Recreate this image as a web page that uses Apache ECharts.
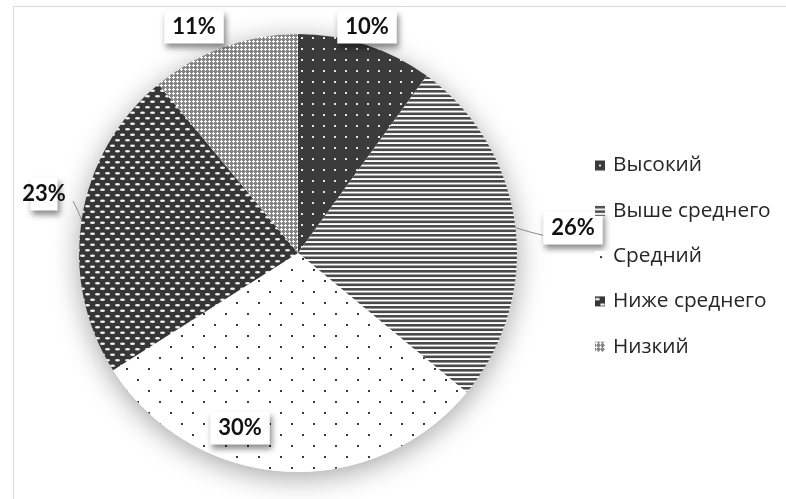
<!DOCTYPE html>
<html>
<head>
<meta charset="utf-8">
<script src="https://cdn.jsdelivr.net/npm/echarts@6/dist/echarts.min.js"></script>
<style>
  html, body { margin: 0; padding: 0; background: #fff; }
  #chart { width: 786px; height: 499px; }
</style>
</head>
<body>
<div id="chart"></div>
<script>
// Levels and their shares (%)
const categories = ['Высокий', 'Выше среднего', 'Средний', 'Ниже среднего', 'Низкий'];
const shares = [10, 26, 30, 23, 11];

// Where each percentage box sits, and its leader line (null = none)
const labelSpots = [[367, 27], [573, 228], [240, 428], [44, 194], [194, 27]];
const leaderLines = [
  null,
  [[513, 227], [530, 232], [546, 236]],
  [[264, 437], [325, 437], [386, 437]],
  [[82, 221], [78, 211], [73, 201]],
  null
];

// Small repeating tiles used as hatch fills
function tile(w, h, draw) {
  const c = document.createElement('canvas');
  c.width = w; c.height = h;
  const g = c.getContext('2d');
  draw(g, w, h);
  return { image: c, repeat: 'repeat' };
}

const fills = [
  // dark with light dots
  tile(11, 11, (g, w, h) => {
    g.fillStyle = '#3b3b3b'; g.fillRect(0, 0, w, h);
    g.fillStyle = '#e6e6e6'; g.fillRect(4, 4, 2, 2);
  }),
  // horizontal stripes
  tile(9, 9, (g, w, h) => {
    g.fillStyle = '#ffffff'; g.fillRect(0, 0, w, h);
    g.fillStyle = '#4a4a4a'; g.fillRect(0, 0, w, 2.6); g.fillRect(0, 4.5, w, 2.6);
  }),
  // sparse staggered dots
  tile(22, 22, (g, w, h) => {
    g.fillStyle = '#ffffff'; g.fillRect(0, 0, w, h);
    g.fillStyle = '#3a3a3a'; g.fillRect(5, 5, 2, 2); g.fillRect(16, 16, 2, 2);
  }),
  // dark with light dashes, brick offset
  tile(10, 11, (g, w, h) => {
    g.fillStyle = '#363636'; g.fillRect(0, 0, w, h);
    g.fillStyle = '#f2f2f2';
    g.beginPath(); g.ellipse(2.5, 2.7, 2.5, 1.3, 0, 0, Math.PI * 2); g.fill();
    g.beginPath(); g.ellipse(7.5, 8.2, 2.5, 1.3, 0, 0, Math.PI * 2); g.fill();
  }),
  // grey lattice with small white crosses
  tile(4, 4, (g, w, h) => {
    g.fillStyle = '#858585'; g.fillRect(0, 0, w, h);
    g.fillStyle = '#ffffff';
    g.fillRect(1, 0, 1, 3); g.fillRect(0, 1, 3, 1);
  })
];

const pieCenter = [298, 253];
const pieRadius = 219;

const chart = echarts.init(document.getElementById('chart'), null, { renderer: 'canvas' });

chart.setOption({
  backgroundColor: '#ffffff',
  animation: false,
  graphic: [{
    type: 'rect',
    z: -10,
    shape: { x: 13.5, y: 6.5, width: 820, height: 520 },
    style: { fill: 'none', stroke: '#d9d9d9', lineWidth: 1 }
  }],
  legend: {
    orient: 'vertical',
    left: 590,
    top: 150,
    data: categories,
    icon: 'rect',
    itemWidth: 10,
    itemHeight: 10,
    itemGap: 24.3,
    textStyle: {
      fontFamily: 'Open Sans',
      fontSize: 20.8,
      lineHeight: 21,
      color: '#262626',
      padding: [0, 0, 0, 3]
    }
  },
  series: [
    {
      // soft halo under the disc
      type: 'pie',
      silent: true,
      center: pieCenter,
      radius: pieRadius,
      label: { show: false },
      labelLine: { show: false },
      itemStyle: {
        color: '#ffffff',
        shadowColor: 'rgba(0,0,0,0.35)',
        shadowBlur: 28,
        shadowOffsetY: 6
      },
      data: [{ value: 1, name: '' }],
      z: 1
    },
    {
      type: 'pie',
      center: pieCenter,
      radius: pieRadius,
      startAngle: 90,
      clockwise: true,
      z: 2,
      data: categories.map((name, i) => ({
        name,
        value: shares[i],
        itemStyle: { color: fills[i] },
        labelLine: { show: !!leaderLines[i] }
      })),
      label: {
        show: true,
        position: 'outside',
        alignTo: 'none',
        overflow: 'none',
        formatter: p => p.value + '%',
        fontFamily: 'Lato',
        fontWeight: 'bold',
        fontSize: 22,
        color: '#111',
        backgroundColor: '#ffffff',
        padding: [6, 8, 5, 8],
        shadowColor: 'rgba(0,0,0,0.45)',
        shadowBlur: 6,
        shadowOffsetX: 2,
        shadowOffsetY: 4
      },
      labelLine: {
        show: true,
        lineStyle: { color: '#8c8c8c', width: 1 }
      },
      labelLayout: params => {
        const i = params.dataIndex;
        const out = {
          x: labelSpots[i][0],
          y: labelSpots[i][1],
          align: 'center',
          verticalAlign: 'middle'
        };
        if (leaderLines[i]) out.labelLinePoints = leaderLines[i];
        return out;
      }
    }
  ]
});
</script>
</body>
</html>
